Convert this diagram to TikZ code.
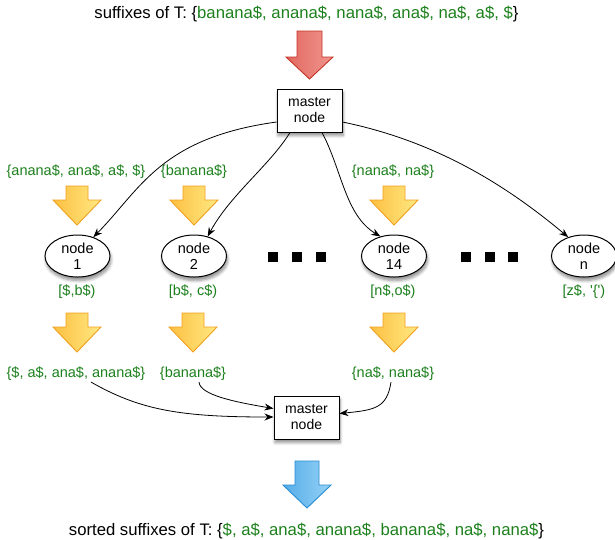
\documentclass[tikz,border=0pt]{standalone}
\usepackage{fontspec}
\setmainfont{Liberation Sans}
\usetikzlibrary{shapes.geometric,shadows.blur,arrows.meta}
\definecolor{lblgreen}{RGB}{28,128,28}
\definecolor{redfill}{RGB}{226,104,96}
\definecolor{redfillb}{RGB}{240,150,142}
\definecolor{redline}{RGB}{196,52,36}
\definecolor{yelfill}{RGB}{252,192,66}
\definecolor{yelfillb}{RGB}{255,232,130}
\definecolor{yelline}{RGB}{240,160,30}
\definecolor{bluefill}{RGB}{84,172,232}
\definecolor{bluefillb}{RGB}{150,210,246}
\definecolor{blueline}{RGB}{40,140,210}
\tikzset{
  pics/fatarrow/.style args={#1/#2/#3/#4}{code={
    \path[pic actions] (-#1,0) -- (#1,0) -- (#1,#3) -- (#2,#3) -- (0,#4) -- (-#2,#3) -- (-#1,#3) -- cycle;}},
  yarrow/.style={draw=yelline, line width=0.9pt, line join=miter, left color=yelfill, right color=yelfillb},
  rarrow/.style={draw=redline, line width=0.9pt, line join=miter, left color=redfill, right color=redfillb},
  barrow/.style={draw=blueline, line width=0.9pt, line join=miter, left color=bluefill, right color=bluefillb},
  mainlbl/.style={font=\fontsize{16.7}{20}\selectfont, inner sep=1pt},
  lbl/.style={font=\fontsize{14.5}{17}\selectfont, text=lblgreen, inner sep=1pt},
  softshadow/.style={blur shadow={shadow blur steps=6, shadow blur radius=3pt, shadow xshift=1pt, shadow yshift=-3.5pt, shadow opacity=45}},
  master/.style={draw, line width=1pt, fill=white, minimum width=65pt, minimum height=43pt,
     align=center, inner sep=0pt, font=\fontsize{14}{16}\selectfont, softshadow},
  worker/.style={ellipse, draw, line width=1pt, fill=white, minimum width=65pt, minimum height=42pt,
     align=center, inner sep=0pt, font=\fontsize{14.5}{16}\selectfont, softshadow},
  dotsq/.style={fill=black, minimum size=10pt, inner sep=0pt},
  conn/.style={line width=0.8pt, -{Stealth[length=9pt,width=7pt]}},
}
\begin{document}
\begin{tikzpicture}[x=1pt,y=-1pt]
\useasboundingbox (0,0) rectangle (615,539);

% top text
\node[mainlbl] (top) at (306.5,14) {suffixes of T: \{\textcolor{lblgreen}{banana\$, anana\$, nana\$, ana\$, na\$, a\$, \$}\}};
\pic[rarrow] at (309.5,31) {fatarrow=12.5/23.5/26/48};

% master nodes
\node[master] (m1) at (309.5,110.5) {master\\node};
\node[master] (m2) at (306.5,417.5) {master\\node};

% workers
\node[worker] (n1) at (77.5,256) {node\\1};
\node[worker] (n2) at (194,256) {node\\2};
\node[worker] (n14) at (394,256) {node\\14};
\node[worker] (nn) at (584,256) {node\\n};

% dots
\node[dotsq] (d1) at (273,257) {};
\node[dotsq] (d2) at (297,257) {};
\node[dotsq] (d3) at (321,257) {};
\node[dotsq] (d4) at (466,257) {};
\node[dotsq] (d5) at (490,257) {};
\node[dotsq] (d6) at (513,257) {};

% upper labels and arrows
\node[lbl] (u1) at (76,172) {\{anana\$, ana\$, a\$, \$\}};
\node[lbl] (u2) at (194,172) {\{banana\$\}};
\node[lbl] (u3) at (393,172) {\{nana\$, na\$\}};
\pic[yarrow] at (77,186) {fatarrow=11/24/14/39};
\pic[yarrow] at (194,186) {fatarrow=11/24/14/39};
\pic[yarrow] at (394,186) {fatarrow=11/24/14/39};

% range labels
\node[lbl] (r1) at (77,292) {[\$,b\$)};
\node[lbl] (r2) at (193,292) {[b\$, c\$)};
\node[lbl] (r3) at (393,292) {[n\$,o\$)};
\node[lbl] (r4) at (584,292) {[z\$, \textquotesingle\{\textquotesingle)};

% lower arrows and labels
\pic[yarrow] at (77,313) {fatarrow=11/24/14/39};
\pic[yarrow] at (193,313) {fatarrow=11/24/14/39};
\pic[yarrow] at (394,313) {fatarrow=11/24/14/39};
\node[lbl] (l1) at (76,374) {\{\$, a\$, ana\$, anana\$\}};
\node[lbl] (l2) at (193,374) {\{banana\$\}};
\node[lbl] (l3) at (393,374) {\{na\$, nana\$\}};

% connectors from master
\draw[conn] ([yshift=-11.5pt]m1.west) .. controls (160,138) and (140,190) .. (n1.50);
\draw[conn] ([xshift=-19.5pt]m1.south) .. controls (270,165) and (230,195) .. (n2.55);
\draw[conn] ([xshift=12.5pt]m1.south) .. controls (342,170) and (345,215) .. (n14.125);
\draw[conn] ([yshift=-11.5pt]m1.east) .. controls (430,140) and (500,180) .. (nn.130);

% connectors to master
\draw[conn] ([xshift=15pt]l1.south) .. controls (140,410) and (180,417) .. ([yshift=0.5pt]m2.west);
\draw[conn] ([xshift=6pt]l2.south) .. controls (200,395) and (235,402) .. ([yshift=9pt]m2.west);
\draw[conn] ([xshift=-2pt]l3.south) .. controls (387,408) and (375,410) .. ([yshift=4pt]m2.east);

% bottom
\pic[barrow] at (307,461) {fatarrow=12/24/24/47};
\node[mainlbl, anchor=base] (bot) at (306.5,535) {sorted suffixes of T: \{\textcolor{lblgreen}{\$, a\$, ana\$, anana\$, banana\$, na\$, nana\$}\}};
\end{tikzpicture}
\end{document}
